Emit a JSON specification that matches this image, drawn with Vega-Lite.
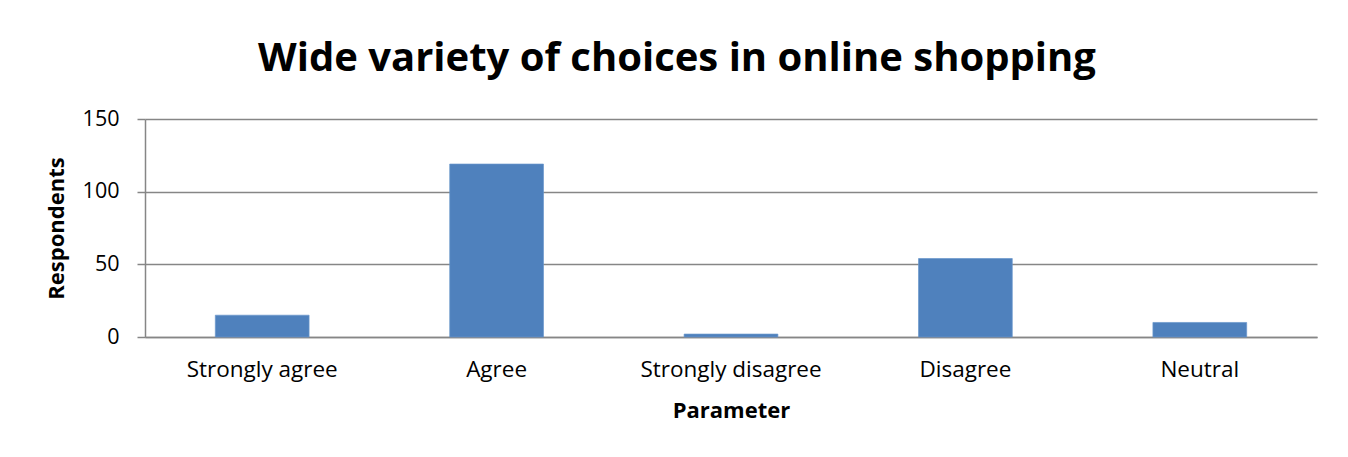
{
  "$schema": "https://vega.github.io/schema/vega-lite/v6.json",
  "autosize": {"type": "none"},
  "width": 1172,
  "height": 218,
  "padding": {"left": 145, "top": 119, "right": 31, "bottom": 120},
  "background": "white",
  "title": {
    "text": "Wide variety of choices in online shopping",
    "font": "Open Sans",
    "fontSize": 40,
    "fontWeight": "bold",
    "color": "#000000",
    "anchor": "middle",
    "dx": -54,
    "offset": 29
  },
  "data": {
    "values": [
      {"Parameter": "Strongly agree", "Respondents": 15},
      {"Parameter": "Agree", "Respondents": 119},
      {"Parameter": "Strongly disagree", "Respondents": 2},
      {"Parameter": "Disagree", "Respondents": 54},
      {"Parameter": "Neutral", "Respondents": 10}
    ]
  },
  "mark": {"type": "bar", "color": "#4F81BD", "stroke": "#6a96cc", "strokeWidth": 0.7},
  "encoding": {
    "x": {
      "field": "Parameter",
      "type": "nominal",
      "sort": null,
      "scale": {"paddingInner": 0.6, "paddingOuter": 0.3},
      "axis": {
        "title": "Parameter",
        "labelAngle": 0,
        "labelLimit": 400,
        "labelOverlap": false,
        "ticks": false,
        "tickSize": 0,
        "labelFontSize": 22.5,
        "labelPadding": 21,
        "titlePadding": 20,
        "domainColor": "#868686",
        "domainWidth": 1.5
      }
    },
    "y": {
      "field": "Respondents",
      "type": "quantitative",
      "scale": {"domain": [0, 150]},
      "axis": {
        "title": "Respondents",
        "values": [0, 50, 100, 150],
        "tickSize": 8,
        "labelFontSize": 21.5,
        "labelPadding": 18,
        "titlePadding": 14,
        "domainColor": "#868686",
        "domainWidth": 1.5,
        "tickColor": "#868686",
        "tickWidth": 1.5,
        "gridColor": "#868686",
        "gridWidth": 1.5,
        "gridOpacity": 1
      }
    }
  },
  "config": {
    "view": {"stroke": null},
    "axis": {
      "labelFont": "Open Sans",
      "labelColor": "#000000",
      "titleFont": "Open Sans",
      "titleFontSize": 22,
      "titleFontWeight": "bold",
      "titleColor": "#000000"
    }
  }
}
